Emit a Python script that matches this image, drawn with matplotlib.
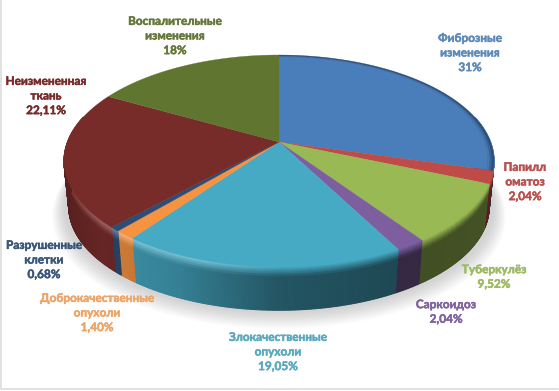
import numpy as np
import matplotlib
matplotlib.use("Agg")
import matplotlib.pyplot as plt
import matplotlib.patheffects as pe
from matplotlib.collections import PolyCollection
from matplotlib.colors import to_rgb

plt.rcParams['font.family'] = ['Lato', 'Noto Sans', 'DejaVu Sans']

names = ["Фиброзные\nизменения", "Папилл\nоматоз", "Туберкулёз", "Саркоидоз",
         "Злокачественные\nопухоли", "Доброкачественные\nопухоли",
         "Разрушенные\nклетки", "Неизмененная\nткань", "Воспалительные\nизменения"]
values = [31, 2.04, 9.52, 2.04, 19.05, 1.40, 0.68, 22.11, 18]
value_labels = ["31%", "2,04%", "9,52%", "2,04%", "19,05%", "1,40%", "0,68%", "22,11%", "18%"]
colors = ["#4A7EBB", "#BE4B48", "#98B954", "#7D5FA0", "#46AAC5",
          "#F69240", "#2C4D75", "#772C2A", "#5F7530"]
text_colors = ["#5F8AB8", "#B9504E", "#9DB962", "#7F64A0", "#5BA9BF",
               "#EDA468", "#39567A", "#772C2A", "#65783A"]
label_x = [470, 525, 494, 446, 278, 97, 44, 46, 175]
label_y = [53, 182, 277, 312, 352, 313, 260, 96, 36]

# perspective of the pie disc, in pixels
CX, CY = 279, 142
A, B, K = 102.6, 211.5, 0.179


def project(theta, r=1.0, scale=1.0, dy=0.0):
    u = r * np.sin(theta)
    v = -r * np.cos(theta)
    w = 1 - K * v
    return CX + scale * B * u / w, CY + dy + scale * A * v / w


def wall_shade(u):
    return np.interp(u, [-1, -0.75, -0.4, 0, 0.5, 1], [0.72, 0.86, 0.75, 0.5, 0.42, 0.45])


def rim_glow(u):
    return np.interp(u, [-1, -0.7, -0.3, 0, 1], [0.04, 0.32, 0.28, 0.0, 0.0])


def mix(a, b, t):
    return tuple(np.array(a) * (1 - t) + np.array(b) * t)


fig = plt.figure(figsize=(5.59, 3.91), dpi=100)
ax = fig.add_axes([0, 0, 1, 1])
ax.set_xlim(0, 559)
ax.set_ylim(391, 0)
ax.axis("off")
ax.plot([1, 1, 558], [0, 389, 389], color="#dcdcdc", lw=1.2)

edges = np.cumsum([0] + values) / sum(values) * 2 * np.pi

# soft shadow under the pie
all_t = np.linspace(0, 2 * np.pi, 200)
for i in range(12):
    sx, sy = project(all_t, scale=1.0 + 0.005 * (11 - i), dy=46 + 0.8 * (11 - i))
    ax.fill(sx, sy, color="#808080", alpha=0.03, lw=0, zorder=1)

# side wall, drawn back to front
rows = [0, 0.02, 0.05, 0.08, 0.12, 0.17, 0.23, 1]
polys, fills = [], []
for start, end, c in zip(edges[:-1], edges[1:], colors):
    base = to_rgb(c)
    n = max(int((end - start) * 110), 2)
    ts = np.linspace(start, end, n + 1)
    for t0, t1 in zip(ts[:-1], ts[1:]):
        mid = (t0 + t1) / 2
        if -np.cos(mid) < -0.25:
            continue
        u = np.sin(mid)
        dark = tuple(np.array(base) * wall_shade(u))
        light = mix(base, (1, 1, 1), rim_glow(u))
        for d0, d1 in zip(rows[:-1], rows[1:]):
            x00, y00 = project(t0, scale=1 - 0.022 * d0, dy=46 * d0)
            x10, y10 = project(t1, scale=1 - 0.022 * d0, dy=46 * d0)
            x11, y11 = project(t1, scale=1 - 0.022 * d1, dy=46 * d1)
            x01, y01 = project(t0, scale=1 - 0.022 * d1, dy=46 * d1)
            polys.append([(x00, y00), (x10, y10), (x11, y11), (x01, y01)])
            fills.append(mix(light, dark, min(d0 / 0.2, 1)))
ax.add_collection(PolyCollection(polys, facecolors=fills, edgecolors=fills, linewidths=0.8, zorder=2))

# top of the pie
for start, end, c in zip(edges[:-1], edges[1:], colors):
    ts = np.linspace(start, end, max(int((end - start) * 60), 3))
    x, y = project(ts)
    ax.fill(np.r_[CX, x], np.r_[CY, y], color=c, lw=0.2, zorder=3)
    # darker edge on the lit-away side
    if np.sin((start + end) / 2) > 0 and -np.cos((start + end) / 2) < 0.2:
        for r, a in zip([0.99, 0.98, 0.97], [0.3, 0.18, 0.08]):
            xi, yi = project(ts, r=r)
            ax.fill(np.r_[x, xi[::-1]], np.r_[y, yi[::-1]], color="#101828", alpha=a, lw=0, zorder=4)

for name, val, tc, lx, ly in zip(names, value_labels, text_colors, label_x, label_y):
    ax.text(lx, ly, name + "\n" + val, color=tc, fontsize=8.5, fontweight="bold",
            ha="center", va="center", linespacing=1.4, zorder=5,
            path_effects=[pe.withStroke(linewidth=0.35, foreground=tc)])

fig.savefig("out.png", dpi=100)
